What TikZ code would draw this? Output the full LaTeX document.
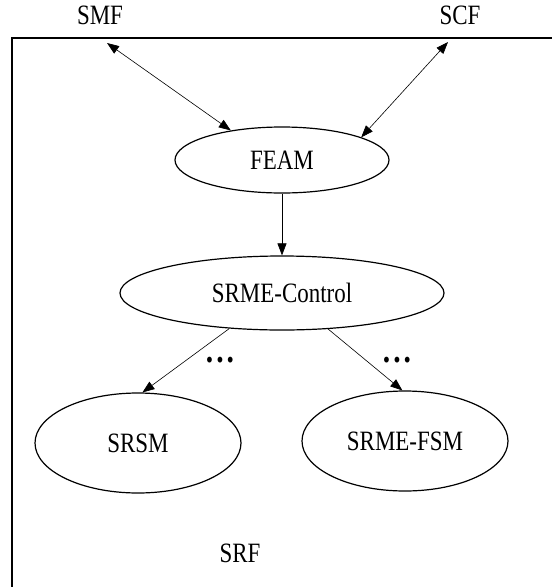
\documentclass[tikz,border=0pt]{standalone}
\usepackage{fontspec}
\setmainfont{Liberation Serif}[FakeStretch=0.82]
\usetikzlibrary{shapes.geometric,arrows.meta}
\tikzset{
    part/.style={ellipse, draw, line width=1.2pt, inner sep=0pt},
    link/.style={line width=0.6pt, -{Triangle[length=12pt,width=9pt]}},
    dlink/.style={line width=0.6pt, {Triangle[length=12pt,width=9pt]}-{Triangle[length=12pt,width=9pt]}}
}
\begin{document}
\begin{tikzpicture}[x=1pt, y=-1pt, font=\fontsize{28}{32}\selectfont]
            \clip (0,0) rectangle (552,587);
            % frame, only the left and top edges fall inside the picture
            \draw[line width=1.2pt] (12,620) -- (12,38) -- (600,38);
            \node (smf) at (100,15) {SMF};
            \node (scf) at (460,15) {SCF};
            \coordinate (smfin) at (107,43);
            \coordinate (scfin) at (448,42);
            \node[part, minimum width=214, minimum height=66] (feam) at (282,160) {FEAM};
            \node[part, minimum width=324, minimum height=74] (ctrl) at (282,293) {SRME-Control};
            \node[part, minimum width=206, minimum height=100] (srsm) at (138,443) {SRSM};
            \node[part, minimum width=206, minimum height=100] (fsm) at (405,441) {SRME-FSM};
            \node (srf) at (240,553) {SRF};
            \foreach \d/\x in {dotsl/220, dotsr/397} {
                    \node[font=\fontsize{36}{40}\bfseries\selectfont, inner sep=0pt] (\d) at (\x,360) {.\hspace{3pt}.\hspace{3pt}.};
                }
            \draw[dlink] (smfin) -- (feam.150);
            \draw[dlink] (scfin) -- (feam.16);
            \draw[link] (feam.south) -- (ctrl.north);
            \draw[link] (ctrl.214) -- (srsm.85);
            \draw[link] (ctrl.-38) -- (fsm.93);
        \end{tikzpicture}
\end{document}
